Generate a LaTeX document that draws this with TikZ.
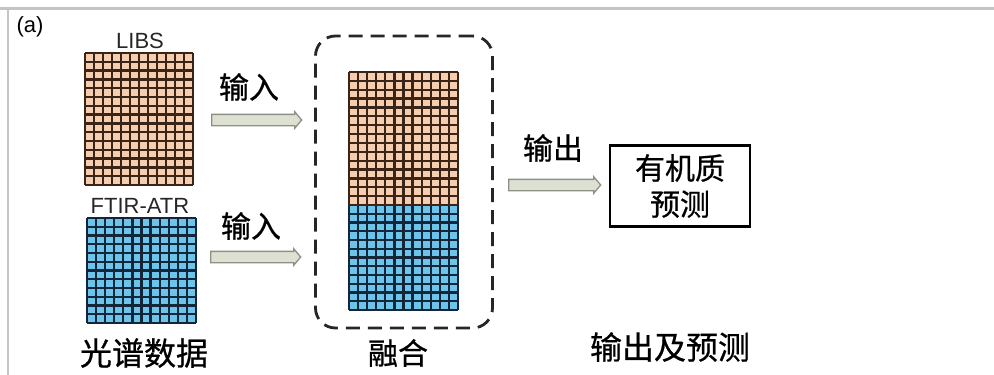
\documentclass[tikz,border=0pt]{standalone}
\usepackage{fontspec}
\setmainfont{Liberation Sans}
\newfontfamily\cjk[AutoFakeBold=0.7]{Noto Sans CJK SC}
\usetikzlibrary{shapes.arrows}
\definecolor{peach}{HTML}{F6CDAE}
\definecolor{peachline}{HTML}{3A2418}
\definecolor{skyb}{HTML}{6CC4EA}
\definecolor{skyline}{HTML}{12263A}
\definecolor{arrfill}{HTML}{DDE1D2}
\definecolor{arrdraw}{HTML}{8E9086}
\definecolor{framegray}{HTML}{C4C4C4}
\tikzset{
  cjklabel/.style={font=\cjk\bfseries\fontsize{30}{32}\selectfont, inner sep=0pt},
  latlabel/.style={font=\fontsize{22}{24}\selectfont, text=black!85, inner sep=0pt},
  blockarrow/.style={single arrow, draw=arrdraw, fill=arrfill, line width=1.3pt,
    minimum height=90pt, inner xsep=0pt, inner ysep=5pt, single arrow head extend=2.5pt,
    single arrow tip angle=100, anchor=west},
  gridpeach/.style={draw=peachline, line width=2.3pt},
  gridblue/.style={draw=skyline, line width=2.3pt},
  dashbox/.style={draw=black!85, line width=2.8pt, dash pattern=on 14pt off 8pt, rounded corners=20pt},
  predbox/.style={draw=black, line width=2.4pt, inner sep=0pt, minimum width=140pt, minimum height=81pt, align=center}
}
\begin{document}
\begin{tikzpicture}[x=1pt,y=-1pt]
\useasboundingbox (0,0) rectangle (994,375);
% frame
\draw[framegray, line width=3pt] (0,8) -- (994,8);
\draw[framegray, line width=2.5pt] (8,8) -- (8,375);
\node[font=\fontsize{22}{24}\selectfont, inner sep=0pt] (lbla) at (30,27) {(a)};

% LIBS grid: 12 x 15
\fill[peach] (85,53) rectangle (193,185);
\foreach \i in {0,...,12} \draw[gridpeach] ({85+\i*9},53) -- ({85+\i*9},185);
\foreach \j in {0,...,15} \draw[gridpeach] (85,{53+\j*8.8}) -- (193,{53+\j*8.8});
\node[inner sep=0pt, minimum width=108pt, minimum height=132pt] (libs) at (139,119) {};
\node[latlabel] (libslbl) at (140,41) {LIBS};

% FTIR grid: 12 x 12
\fill[skyb] (87,218) rectangle (196,323);
\foreach \i in {0,...,12} \draw[gridblue] ({87+\i*9.083},218) -- ({87+\i*9.083},323);
\foreach \j in {0,...,12} \draw[gridblue] (87,{218+\j*8.75}) -- (196,{218+\j*8.75});
\node[inner sep=0pt, minimum width=109pt, minimum height=105pt] (ftir) at (141.5,270.5) {};
\node[latlabel] (ftirlbl) at (140,206) {FTIR-ATR};

\node[cjklabel, font=\cjk\bfseries\fontsize{32}{34}\selectfont] (spec) at (144,353) {光谱数据};

% fused grid
\fill[peach] (349,72) rectangle (458,205);
\fill[skyb] (349,205) rectangle (458,310);
\foreach \i in {0,...,12} \draw[gridpeach] ({349+\i*9.083},72) -- ({349+\i*9.083},205);
\foreach \i in {0,...,12} \draw[gridblue] ({349+\i*9.083},205) -- ({349+\i*9.083},310);
\foreach \j in {0,...,15} \draw[gridpeach] (349,{72+\j*8.867}) -- (458,{72+\j*8.867});
\foreach \j in {1,...,12} \draw[gridblue] (349,{205+\j*8.75}) -- (458,{205+\j*8.75});
\node[inner sep=0pt, minimum width=109pt, minimum height=238pt] (fused) at (403.5,191) {};

% dashed fusion box
\node[dashbox, minimum width=177pt, minimum height=292pt, inner sep=0pt] (fusebox) at (404,182) {};
\node[cjklabel] (fuselbl) at (398,353) {融合};

% input arrows
\node[cjklabel] (in1) at (249,87) {输入};
\node[cjklabel] (in2) at (251,226) {输入};
\coordinate (a1s) at (211,120);
\coordinate (a2s) at (210,257);
\node[blockarrow] (arr1) at (a1s) {};
\node[blockarrow] (arr2) at (a2s) {};

% output
\node[cjklabel] (outlbl) at (553,148) {输出};
\coordinate (a3s) at (508,185);
\node[blockarrow, minimum height=92pt] (arr3) at (a3s) {};
\node[predbox, font=\cjk\bfseries\fontsize{30}{36}\selectfont] (pred) at (680,186) {有机质\\预测};
\node[cjklabel, font=\cjk\bfseries\fontsize{32}{34}\selectfont] (outpred) at (670,347) {输出及预测};
\end{tikzpicture}
\end{document}
